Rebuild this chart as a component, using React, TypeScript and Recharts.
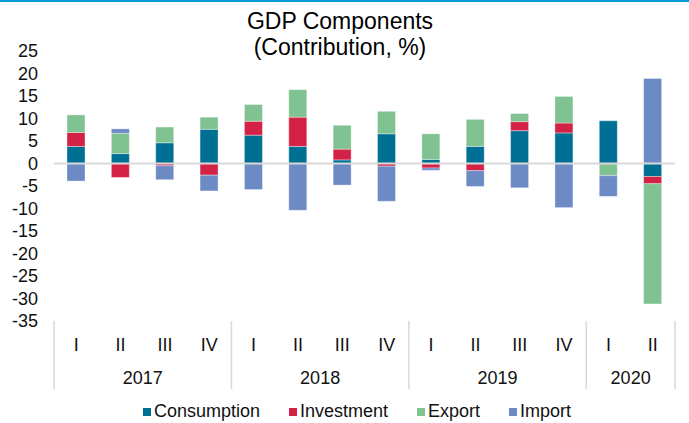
import React from 'react';
import { Bar, BarChart, Legend, ReferenceLine, XAxis, YAxis } from 'recharts';

// Quarterly contributions to GDP growth, percentage points
const QUARTERS = ['I', 'II', 'III', 'IV', 'I', 'II', 'III', 'IV', 'I', 'II', 'III', 'IV', 'I', 'II'];
const YEARS = ['2017', '2017', '2017', '2017', '2018', '2018', '2018', '2018', '2019', '2019', '2019', '2019', '2020', '2020'];
const CONSUMPTION = [3.8, 2.2, 4.6, 7.6, 6.3, 3.8, 0.8, 6.6, 0.9, 3.8, 7.3, 6.8, 9.5, -2.9];
const INVESTMENT = [3.1, -3.1, -0.5, -2.6, 3.1, 6.5, 2.4, -0.6, -1.0, -1.6, 2.0, 2.2, 0, -1.6];
const EXPORT = [3.9, 4.5, 3.5, 2.7, 3.7, 6.1, 5.3, 5.0, 5.7, 6.0, 1.8, 5.9, -2.7, -26.7];
const IMPORT = [-3.9, 1.0, -3.1, -3.5, -5.8, -10.4, -4.8, -7.8, -0.5, -3.5, -5.4, -9.8, -4.6, 18.9];
const Y_TICKS = [25, 20, 15, 10, 5, 0, -5, -10, -15, -20, -25, -30, -35];

const SERIES = [
  { key: 'consumption', name: 'Consumption', color: '#006f94' },
  { key: 'investment', name: 'Investment', color: '#d42146' },
  { key: 'export', name: 'Export', color: '#80c291' },
  { key: 'import', name: 'Import', color: '#6c8ac4' },
];

const data = QUARTERS.map((q, i) => ({
  q,
  year: YEARS[i],
  consumption: CONSUMPTION[i],
  investment: INVESTMENT[i],
  export: EXPORT[i],
  import: IMPORT[i],
}));

const FONT = '"Liberation Sans", Arial, sans-serif';
const W = 689;
const H = 423;
const LEFT = 54;
const RIGHT = 14;
const BAND = (W - LEFT - RIGHT) / QUARTERS.length;

function QuarterTick(props: any) {
  const { x, y, index, payload } = props;
  const year = YEARS[index];
  const first = index === 0 || YEARS[index - 1] !== year;
  const last = index === QUARTERS.length - 1;
  const count = YEARS.filter((v) => v === year).length;
  const sep = { stroke: '#d9d9d9', strokeWidth: 1.5 };
  return (
    <g>
      <text x={x} y={y + 24} textAnchor="middle" dominantBaseline="central" fill="#111" fontSize={18} fontFamily={FONT}>
        {payload.value}
      </text>
      {first && (
        <>
          <line x1={x - BAND / 2} x2={x - BAND / 2} y1={y} y2={y + 68} {...sep} />
          <text
            x={x - BAND / 2 + (BAND * count) / 2}
            y={y + 57}
            textAnchor="middle"
            dominantBaseline="central"
            fill="#111"
            fontSize={18}
            fontFamily={FONT}
          >
            {year}
          </text>
        </>
      )}
      {last && <line x1={x + BAND / 2} x2={x + BAND / 2} y1={y} y2={y + 68} {...sep} />}
    </g>
  );
}

// legend keeps the series order (recharts re-sorts its payload)
function LegendContent() {
  return (
    <div
      style={{
        width: W,
        height: 30,
        boxSizing: 'border-box',
        paddingTop: 7,
        paddingLeft: 25,
        display: 'flex',
        justifyContent: 'center',
        alignItems: 'center',
        gap: 29,
        fontFamily: FONT,
        fontSize: 18,
        color: '#111',
      }}
    >
      {SERIES.map((s) => (
        <span key={s.key} style={{ display: 'flex', alignItems: 'center' }}>
          <span style={{ width: 8, height: 8, background: s.color, marginRight: 3 }} />
          {s.name}
        </span>
      ))}
    </div>
  );
}

export default function App() {
  return (
    <div style={{ position: 'absolute', left: 0, top: 0, width: W, height: H, background: '#fff' }}>
      <div style={{ position: 'absolute', left: 0, top: 0, width: W, height: 2, background: '#0a9ad7' }} />
      <div
        style={{
          position: 'absolute',
          left: 0,
          top: 8,
          width: 680,
          textAlign: 'center',
          fontFamily: FONT,
          fontSize: 23,
          lineHeight: '26px',
          color: '#000',
        }}
      >
        GDP Components
        <br />
        (Contribution, %)
      </div>
      <BarChart
        width={W}
        height={H}
        data={data}
        stackOffset="sign"
        margin={{ top: 51, right: RIGHT, bottom: 0, left: 0 }}
      >
        <YAxis
          width={LEFT}
          domain={[-35, 25]}
          ticks={Y_TICKS}
          interval={0}
          axisLine={false}
          tickLine={false}
          tickSize={0}
          tickMargin={16}
          tick={{ fill: '#111', fontSize: 18, fontFamily: FONT }}
        />
        <XAxis
          dataKey="q"
          interval={0}
          height={72}
          axisLine={false}
          tickLine={false}
          tickSize={0}
          tickMargin={0}
          tick={<QuarterTick />}
        />
        <ReferenceLine y={0} stroke="#d9d9d9" strokeWidth={2} />
        {SERIES.map((s) => (
          <Bar
            key={s.key}
            dataKey={s.key}
            name={s.name}
            stackId="gdp"
            fill={s.color}
            stroke="#fff"
            strokeOpacity={0.35}
            strokeWidth={1}
            barSize={18}
            isAnimationActive={false}
          />
        ))}
        <Legend verticalAlign="bottom" height={30} content={<LegendContent />} />
      </BarChart>
    </div>
  );
}
